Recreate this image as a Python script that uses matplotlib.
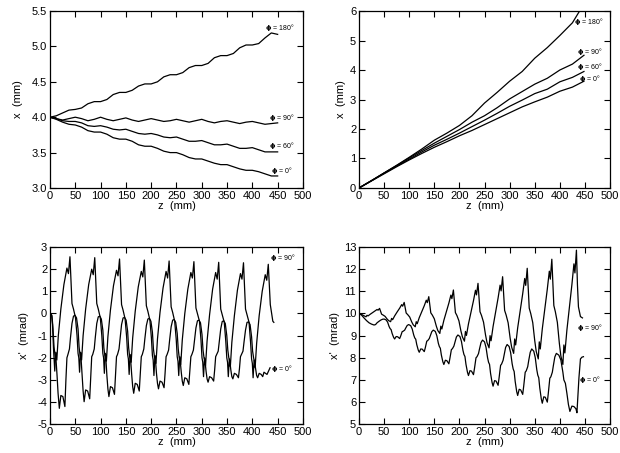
import matplotlib
matplotlib.use('Agg')
import matplotlib.pyplot as plt

plt.rcParams['font.family'] = ['Liberation Sans', 'DejaVu Sans']
plt.rcParams['axes.unicode_minus'] = False

# ---------------- top left: x (mm) vs z, phi = 180/90/60/0 ----------------
z_tl = [0, 12.5, 25, 37.5, 50, 62.5, 75, 87.5, 100, 112.5, 125, 137.5, 150, 162.5,
        175, 187.5, 200, 212.5, 225, 237.5, 250, 262.5, 275, 287.5, 300, 312.5,
        325, 337.5, 350, 362.5, 375, 387.5, 400, 412.5, 425, 437.5, 450]
x_tl_180 = [4.00, 4.02, 4.06, 4.10, 4.11, 4.13, 4.19, 4.22, 4.22, 4.25, 4.32, 4.35,
            4.35, 4.38, 4.44, 4.47, 4.47, 4.50, 4.57, 4.60, 4.60, 4.63, 4.70, 4.73,
            4.73, 4.76, 4.84, 4.87, 4.87, 4.90, 4.98, 5.02, 5.02, 5.04, 5.12, 5.19, 5.17]
x_tl_90 = [4.00, 3.98, 3.96, 3.98, 4.00, 3.98, 3.95, 3.97, 4.00, 3.97, 3.95, 3.97,
           3.99, 3.96, 3.94, 3.96, 3.98, 3.96, 3.94, 3.95, 3.97, 3.95, 3.93, 3.95,
           3.97, 3.94, 3.92, 3.94, 3.95, 3.93, 3.91, 3.93, 3.94, 3.92, 3.90, 3.91, 3.92]
x_tl_60 = [4.00, 3.98, 3.95, 3.94, 3.94, 3.92, 3.88, 3.87, 3.88, 3.86, 3.83, 3.82,
           3.83, 3.80, 3.77, 3.76, 3.77, 3.75, 3.72, 3.71, 3.72, 3.69, 3.66, 3.66,
           3.67, 3.64, 3.61, 3.61, 3.62, 3.59, 3.56, 3.56, 3.57, 3.54, 3.51, 3.51, 3.51]
x_tl_0 = [4.00, 3.97, 3.93, 3.90, 3.89, 3.86, 3.81, 3.79, 3.79, 3.76, 3.71, 3.69,
          3.69, 3.66, 3.61, 3.59, 3.59, 3.56, 3.52, 3.50, 3.50, 3.47, 3.43, 3.41,
          3.41, 3.38, 3.35, 3.33, 3.33, 3.30, 3.27, 3.25, 3.25, 3.23, 3.20, 3.17, 3.17]

# ---------------- top right ----------------
z_tr = [0, 25, 50, 75, 100, 125, 150, 175, 200, 225, 250, 275, 300, 325, 350,
        375, 400, 425, 448]
z_tr_180 = [0, 25, 50, 75, 100, 125, 150, 175, 200, 225, 250, 275, 300, 325, 350,
            375, 400, 425, 440]
x_tr_180 = [0, 0.25, 0.51, 0.77, 1.04, 1.32, 1.62, 1.86, 2.12, 2.45, 2.88, 3.24,
            3.62, 3.95, 4.40, 4.76, 5.17, 5.60, 6.02]
x_tr_90 = [0, 0.25, 0.51, 0.76, 1.02, 1.27, 1.52, 1.75, 1.98, 2.23, 2.45, 2.72,
           3.02, 3.27, 3.52, 3.72, 4.00, 4.20, 4.50]
x_tr_60 = [0, 0.25, 0.50, 0.74, 0.98, 1.22, 1.45, 1.65, 1.86, 2.08, 2.30, 2.53,
           2.77, 2.98, 3.20, 3.35, 3.60, 3.75, 3.95]
x_tr_0 = [0, 0.24, 0.48, 0.72, 0.95, 1.17, 1.38, 1.57, 1.77, 1.95, 2.15, 2.35,
          2.55, 2.75, 2.92, 3.08, 3.28, 3.42, 3.62]

# ---------------- bottom left: x' (mrad) ----------------
z_bl_90 = [0, 3, 5, 7, 9.5, 11.5, 13.5, 16.5, 21.5, 27.5, 33.5, 36.5, 39.5, 41.5, 43.5, 46.5, 50.5, 53.5, 55.5, 57,
           58.5, 60.5, 62.5, 65.5, 70.5, 76.5, 82.5, 85.5, 88.5, 90.5, 92.5, 95.5, 99.5, 102.5, 104.5, 106,
           107.5, 109.5, 111.5, 114.5, 119.5, 125.5, 131.5, 134.5, 137.5, 139.5, 141.5, 144.5, 148.5, 151.5, 153.5, 155,
           156.5, 158.5, 160.5, 163.5, 168.5, 174.5, 180.5, 183.5, 186.5, 188.5, 190.5, 193.5, 197.5, 200.5, 202.5, 204,
           205.5, 207.5, 209.5, 212.5, 217.5, 223.5, 229.5, 232.5, 235.5, 237.5, 239.5, 242.5, 246.5, 249.5, 251.5, 253,
           254.5, 256.5, 258.5, 261.5, 266.5, 272.5, 278.5, 281.5, 284.5, 286.5, 288.5, 291.5, 295.5, 298.5, 300.5, 302,
           303.5, 305.5, 307.5, 310.5, 315.5, 321.5, 327.5, 330.5, 333.5, 335.5, 337.5, 340.5, 344.5, 347.5, 349.5, 351,
           352.5, 354.5, 356.5, 359.5, 364.5, 370.5, 376.5, 379.5, 382.5, 384.5, 386.5, 389.5, 393.5, 396.5, 398.5, 400,
           401.5, 403.5, 405.5, 408.5, 413.5, 419.5, 425.5, 428.5, 431.5, 433.5, 435.5, 437.5, 440.5, 442.5]
xp_bl_90 = [0, -0.05, -0.5, -1.6, -2.6, -1.75, -2.1, -1.0, 0.2, 1.3, 2.05, 1.8, 2.56, 1.55, 0.45, 0.2, -0.2, -1.0, -1.8, -2.0,
            -2.65, -1.75, -2.1, -1.0, 0.2, 1.3, 2.0, 1.75, 2.52, 1.5, 0.45, 0.2, -0.2, -1.0, -1.8, -2.0,
            -2.7, -1.8, -2.15, -1.05, 0.15, 1.25, 1.95, 1.7, 2.46, 1.45, 0.4, 0.15, -0.25, -1.05, -1.85, -2.05,
            -2.75, -1.85, -2.2, -1.1, 0.1, 1.2, 1.9, 1.65, 2.41, 1.4, 0.35, 0.1, -0.3, -1.1, -1.9, -2.1,
            -2.8, -1.9, -2.25, -1.15, 0.05, 1.15, 1.9, 1.6, 2.37, 1.35, 0.3, 0.05, -0.35, -1.15, -1.95, -2.15,
            -2.8, -1.95, -2.3, -1.2, 0.0, 1.1, 1.85, 1.6, 2.34, 1.3, 0.25, 0.0, -0.35, -1.2, -2.0, -2.2,
            -2.85, -2.0, -2.35, -1.25, -0.05, 1.1, 1.85, 1.55, 2.31, 1.3, 0.2, -0.05, -0.4, -1.25, -2.0, -2.2,
            -2.85, -2.05, -2.4, -1.3, -0.1, 1.05, 1.8, 1.55, 2.29, 1.25, 0.2, -0.05, -0.4, -1.3, -2.05, -2.25,
            -2.9, -2.1, -2.45, -1.35, -0.1, 1.0, 1.75, 1.5, 2.22, 1.3, 0.4, 0.1, -0.35, -0.4]

z_bl_0 = [0, 4, 6, 8, 10, 12, 14, 16, 18.5, 21.5, 25.5, 29.5, 31.5, 33.5, 35.5, 38.5, 40.5, 43.5, 46.5,
          49.5, 52.5, 55.5, 57.5, 59.5, 61.5, 63.5, 65.5, 67.5, 70.5, 74.5, 78.5, 80.5, 82.5, 84.5, 87.5, 89.5, 92.5, 95.5,
          98.5, 101.5, 104.5, 106.5, 108.5, 110.5, 112.5, 114.5, 116.5, 119.5, 123.5, 127.5, 129.5, 131.5, 133.5, 136.5, 138.5, 141.5, 144.5,
          147.5, 150.5, 153.5, 155.5, 157.5, 159.5, 161.5, 163.5, 165.5, 168.5, 172.5, 176.5, 178.5, 180.5, 182.5, 185.5, 187.5, 190.5, 193.5,
          196.5, 199.5, 202.5, 204.5, 206.5, 208.5, 210.5, 212.5, 214.5, 217.5, 221.5, 225.5, 227.5, 229.5, 231.5, 234.5, 236.5, 239.5, 242.5,
          245.5, 248.5, 251.5, 253.5, 255.5, 257.5, 259.5, 261.5, 263.5, 266.5, 270.5, 274.5, 276.5, 278.5, 280.5, 283.5, 285.5, 288.5, 291.5,
          294.5, 297.5, 300.5, 302.5, 304.5, 306.5, 308.5, 310.5, 312.5, 315.5, 319.5, 323.5, 325.5, 327.5, 329.5, 332.5, 334.5, 337.5, 340.5,
          343.5, 346.5, 349.5, 351.5, 353.5, 355.5, 357.5, 359.5, 361.5, 364.5, 368.5, 372.5, 374.5, 376.5, 378.5, 381.5, 383.5, 386.5, 389.5,
          392.5, 395.5, 398.5, 400.5, 402.5, 404.5, 406.5, 408.5, 410.5, 413.5, 417.5, 420.5, 423, 426, 429, 432, 435]
xp_bl_0 = [0, -0.1, -0.7, -1.5, -1.9, -2.1, -2.8, -3.6, -4.28, -3.7, -3.75, -4.2, -3.0, -2.0, -1.85, -1.6, -1.1, -0.45, -0.12,
           -0.08, -0.2, -0.7, -1.5, -1.9, -2.05, -2.8, -3.5, -3.98, -3.45, -3.5, -3.85, -2.9, -1.95, -1.85, -1.6, -1.1, -0.45, -0.15,
           -0.12, -0.25, -0.75, -1.55, -1.9, -2.05, -2.8, -3.4, -3.75, -3.3, -3.35, -3.65, -2.8, -1.95, -1.85, -1.6, -1.15, -0.5, -0.2,
           -0.18, -0.3, -0.8, -1.55, -1.95, -2.1, -2.75, -3.3, -3.6, -3.15, -3.2, -3.5, -2.75, -1.95, -1.85, -1.6, -1.15, -0.55, -0.25,
           -0.22, -0.35, -0.85, -1.6, -1.95, -2.1, -2.7, -3.15, -3.4, -3.05, -3.1, -3.35, -2.7, -1.95, -1.85, -1.65, -1.2, -0.6, -0.3,
           -0.27, -0.4, -0.9, -1.6, -2.0, -2.15, -2.65, -3.05, -3.25, -2.9, -2.95, -3.2, -2.6, -1.95, -1.85, -1.65, -1.25, -0.65, -0.33,
           -0.3, -0.42, -0.95, -1.65, -2.0, -2.15, -2.6, -2.95, -3.1, -2.85, -2.9, -3.05, -2.55, -1.95, -1.85, -1.7, -1.3, -0.7, -0.36,
           -0.33, -0.45, -1.0, -1.65, -2.0, -2.15, -2.55, -2.85, -2.95, -2.7, -2.75, -2.9, -2.5, -1.95, -1.85, -1.7, -1.3, -0.75, -0.4,
           -0.38, -0.5, -1.05, -1.7, -2.0, -2.2, -2.5, -2.8, -2.9, -2.7, -2.75, -2.85, -2.65, -2.7, -2.75, -2.6, -2.45]

# ---------------- bottom right ----------------
z_br_90 = [0, 4, 8,
           14, 16, 18, 22, 27, 32, 36, 38, 41, 43, 45, 48, 52, 56, 59,
           63, 65, 67, 71, 76, 81, 85, 87, 90, 92, 94, 97, 101, 105, 108,
           112, 114, 116, 120, 125, 130, 134, 136, 139, 141, 143, 146, 150, 154, 157,
           161, 163, 165, 169, 174, 179, 183, 185, 188, 190, 192, 195, 199, 203, 206,
           210, 212, 214, 218, 223, 228, 232, 234, 237, 239, 241, 244, 248, 252, 255,
           259, 261, 263, 267, 272, 277, 281, 283, 286, 288, 290, 293, 297, 301, 304,
           308, 310, 312, 316, 321, 326, 330, 332, 335, 337, 339, 342, 346, 350, 353,
           357, 359, 361, 365, 370, 375, 379, 381, 384, 386, 388, 391, 395, 399, 402,
           406, 408, 410, 414, 419, 424, 428, 430, 433, 435, 437, 441, 445]
xp_br_90 = [10.0, 9.97, 9.92,
            9.85, 9.92, 9.89, 9.96, 10.04, 10.12, 10.18, 10.15, 10.23, 10.10, 9.97, 9.93, 9.87, 9.75, 9.68,
            9.63, 9.78, 9.72, 9.89, 10.07, 10.24, 10.40, 10.33, 10.50, 10.26, 10.02, 9.95, 9.84, 9.62, 9.49,
            9.40, 9.63, 9.54, 9.81, 10.08, 10.35, 10.60, 10.49, 10.76, 10.40, 10.03, 9.93, 9.76, 9.43, 9.23,
            9.10, 9.43, 9.30, 9.69, 10.08, 10.47, 10.83, 10.67, 11.06, 10.55, 10.04, 9.91, 9.67, 9.21, 8.94,
            8.75, 9.19, 9.01, 9.53, 10.06, 10.58, 11.05, 10.84, 11.36, 10.72, 10.08, 9.91, 9.61, 9.03, 8.68,
            8.45, 9.00, 8.77, 9.41, 10.06, 10.70, 11.28, 11.02, 11.66, 10.90, 10.14, 9.93, 9.58, 8.89, 8.48,
            8.20, 8.85, 8.58, 9.35, 10.12, 10.89, 11.58, 11.27, 12.04, 11.14, 10.24, 10.00, 9.59, 8.77, 8.28,
            7.95, 8.72, 8.40, 9.30, 10.20, 11.10, 11.91, 11.55, 12.45, 11.41, 10.36, 10.08, 9.60, 8.65, 8.08,
            7.70, 8.58, 8.22, 9.25, 10.28, 11.31, 12.24, 11.83, 12.86, 11.30, 10.30, 9.86, 9.80]

z_br_0 = [0, 5, 10, 15, 20, 25, 30, 33, 36, 40, 44, 47,
          50, 54, 57, 60, 62, 64, 66, 69, 71, 74, 77, 81, 83, 86, 88, 91, 93, 96,
          99, 103, 106, 109, 111, 113, 115, 118, 120, 123, 126, 130, 132, 135, 137, 140, 142, 145,
          148, 152, 155, 158, 160, 162, 164, 167, 169, 172, 175, 179, 181, 184, 186, 189, 191, 194,
          197, 201, 204, 207, 209, 211, 213, 216, 218, 221, 224, 228, 230, 233, 235, 238, 240, 243,
          246, 250, 253, 256, 258, 260, 262, 265, 267, 270, 273, 277, 279, 282, 284, 287, 289, 292,
          295, 299, 302, 305, 307, 309, 311, 314, 316, 319, 322, 326, 328, 331, 333, 336, 338, 341,
          344, 348, 351, 354, 356, 358, 360, 363, 365, 368, 371, 375, 377, 380, 382, 385, 387, 390,
          393, 398, 402, 406, 408, 411, 414, 417, 420, 424, 428, 432, 434, 436, 438, 441, 444, 447]
xp_br_0 = [10.0, 9.93, 9.80, 9.68, 9.58, 9.52, 9.48, 9.50, 9.58, 9.65, 9.71, 9.74,
           9.75, 9.71, 9.61, 9.41, 9.32, 9.27, 9.10, 8.92, 8.85, 8.96, 8.95, 8.87, 8.98, 9.18, 9.20, 9.25, 9.34, 9.46,
           9.50, 9.45, 9.30, 9.03, 8.90, 8.84, 8.60, 8.35, 8.25, 8.40, 8.39, 8.28, 8.45, 8.75, 8.78, 8.87, 9.00, 9.18,
           9.25, 9.19, 9.00, 8.66, 8.51, 8.43, 8.13, 7.82, 7.70, 7.89, 7.87, 7.73, 7.97, 8.37, 8.41, 8.53, 8.70, 8.94,
           9.03, 8.96, 8.74, 8.34, 8.15, 8.06, 7.71, 7.35, 7.20, 7.42, 7.40, 7.24, 7.52, 8.00, 8.05, 8.19, 8.40, 8.69,
           8.80, 8.72, 8.47, 8.01, 7.80, 7.70, 7.30, 6.89, 6.72, 6.97, 6.95, 6.76, 7.10, 7.66, 7.72, 7.89, 8.13, 8.47,
           8.60, 8.51, 8.23, 7.73, 7.50, 7.38, 6.94, 6.48, 6.30, 6.58, 6.55, 6.35, 6.72, 7.35, 7.41, 7.60, 7.88, 8.25,
           8.40, 8.30, 8.01, 7.47, 7.22, 7.10, 6.64, 6.15, 5.95, 6.24, 6.22, 6.00, 6.40, 7.08, 7.14, 7.35, 7.64, 8.04,
           8.20, 8.12, 7.90, 7.35, 7.00, 6.85, 6.40, 5.90, 5.58, 5.82, 5.80, 5.70, 5.52, 6.30, 7.10, 7.95, 8.03, 8.05]

fig = plt.figure(figsize=(6.2, 4.53), dpi=100)
ax_tl = fig.add_axes([0.0806, 0.585, 0.408, 0.3907])
ax_tr = fig.add_axes([0.5790, 0.585, 0.405, 0.3907])
ax_bl = fig.add_axes([0.0806, 0.0634, 0.408, 0.3913])
ax_br = fig.add_axes([0.5790, 0.0634, 0.405, 0.3913])


def style(ax, ylim, yticks, ylabel, fmt, lpad):
    ax.set_xlim(0, 500)
    ax.set_xticks(range(0, 501, 50))
    ax.set_ylim(*ylim)
    ax.set_yticks(yticks)
    ax.set_yticklabels([fmt.format(v) for v in yticks])
    ax.tick_params(direction='in', top=True, right=True, length=4, width=0.8,
                   labelsize=8, pad=2)
    for sp in ax.spines.values():
        sp.set_linewidth(0.9)
    ax.set_xlabel('z  (mm)', fontsize=8, labelpad=0)
    ax.set_ylabel(ylabel, fontsize=8, labelpad=lpad)


def tag(ax, z, v, ang):
    label = r'$\mathbf{\phi}$' + ' = ' + str(ang) + '°'
    ax.text(z, v, label, fontsize=5, va='center')


lw = 0.9
ax_tl.plot(z_tl, x_tl_180, 'k-', lw=lw)
ax_tl.plot(z_tl, x_tl_90, 'k-', lw=lw)
ax_tl.plot(z_tl, x_tl_60, 'k-', lw=lw)
ax_tl.plot(z_tl, x_tl_0, 'k-', lw=lw)
style(ax_tl, (3.0, 5.5), [3.0, 3.5, 4.0, 4.5, 5.0, 5.5], 'x  (mm)', '{:.1f}', 6)
tag(ax_tl, 425, 5.26, 180)
tag(ax_tl, 433, 4.0, 90)
tag(ax_tl, 433, 3.6, 60)
tag(ax_tl, 436, 3.25, 0)

ax_tr.plot(z_tr_180, x_tr_180, 'k-', lw=lw)
ax_tr.plot(z_tr, x_tr_90, 'k-', lw=lw)
ax_tr.plot(z_tr, x_tr_60, 'k-', lw=lw)
ax_tr.plot(z_tr, x_tr_0, 'k-', lw=lw)
style(ax_tr, (0, 6), [0, 1, 2, 3, 4, 5, 6], 'x  (mm)', '{:d}', 3)
tag(ax_tr, 428, 5.64, 180)
tag(ax_tr, 434, 4.64, 90)
tag(ax_tr, 434, 4.13, 60)
tag(ax_tr, 439, 3.70, 0)

ax_bl.plot(z_bl_90, xp_bl_90, 'k-', lw=lw)
ax_bl.plot(z_bl_0, xp_bl_0, 'k-', lw=lw)
style(ax_bl, (-5, 3), list(range(-5, 4)), "x'  (mrad)", '{:d}', 6)
tag(ax_bl, 434, 2.53, 90)
tag(ax_bl, 437, -2.47, 0)

ax_br.plot(z_br_90, xp_br_90, 'k-', lw=lw)
ax_br.plot(z_br_0, xp_br_0, 'k-', lw=lw)
style(ax_br, (5, 13), list(range(5, 14)), "x'  (mrad)", '{:d}', 3)
tag(ax_br, 435, 9.36, 90)
tag(ax_br, 439, 7.0, 0)

fig.savefig('out.png', dpi=100)
